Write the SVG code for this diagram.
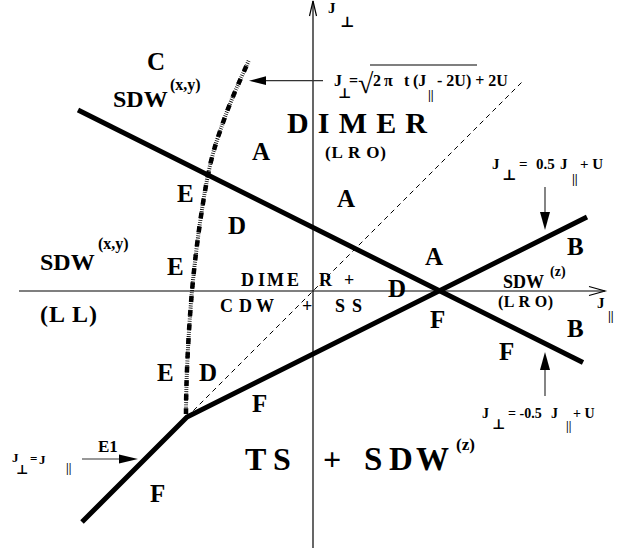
<svg xmlns="http://www.w3.org/2000/svg" width="630" height="548" viewBox="0 0 630 548">
<style>
text{font-family:"Liberation Serif","DejaVu Serif",serif;font-weight:bold;fill:#000}
.L{font-size:25px}
.f{font-size:15px}
.ax{stroke:#000;stroke-width:1.2;fill:none}
.thick{stroke:#000;stroke-width:5;fill:none;stroke-linejoin:miter}
.dash{stroke:#000;stroke-width:1;fill:none;stroke-dasharray:5 4}
.arr{stroke:#333;stroke-width:1.2;fill:none}
.head{fill:#000;stroke:none}
</style>
<rect width="630" height="548" fill="#fff"/>
<g id="connectors">
  <path class="ax" d="M19,291 L605,291"/>
  <path class="ax" d="M589,286.5 L605,291 L589,295.5"/>
  <path class="ax" d="M313,548 L313,1"/>
  <path class="ax" d="M309.5,16 L313,1 L316.5,16"/>
  <path class="dash" d="M187,417 L523,81"/>
  <path class="thick" d="M78,110 L583,362.5"/>
  <path class="thick" d="M82,522 L187,417 L587,217"/>
  <path d="M186,414 C186,380 188.5,330 192,291 C195.5,252 201.5,209 207,180 C212.5,151 218,137 225,117 C232,97 245,69.5 249,60" fill="none" stroke="#000" stroke-width="4" stroke-dasharray="0.8 1.4"/>
  <path d="M186,414 C186,380 188.5,330 192,291 C195.5,252 201.5,209 207,180 C212.5,151 218,137 225,117 C232,97 245,69.5 249,60" fill="none" stroke="#000" stroke-width="4.5" stroke-dasharray="6 8"/>
  <path class="arr" d="M323,80.7 L262,80.7"/>
  <path class="head" d="M249,80.7 L266,76.3 L266,85.1 Z"/>
  <path class="arr" d="M545,187 L545,214"/>
  <path class="head" d="M545,230 L540,212 L550,212 Z"/>
  <path class="arr" d="M545,396 L545,368"/>
  <path class="head" d="M545,352 L540,370 L550,370 Z"/>
  <path class="arr" d="M82,459 L121,459"/>
  <path class="head" d="M138,459 L119,454.5 L119,463.5 Z"/>
</g>
<g id="axis-labels">
  <text class="f" x="328" y="13">J</text>
  <text class="f" x="340" y="27">⊥</text>
  <text class="f" x="597" y="308">J</text>
  <text x="608" y="320" font-size="13">||</text>
</g>
<g id="formula-top">
  <text font-size="16" x="334" y="86">J</text>
  <text font-size="14" x="338" y="98">⊥</text>
  <text font-size="16" x="349" y="86">=</text>
  <text font-size="28" x="358" y="93">√</text>
  <path d="M370,65 L477,65" stroke="#000" stroke-width="1.2"/>
  <text font-size="16" y="86"><tspan x="373">2</tspan><tspan x="384">π</tspan><tspan x="404">t</tspan><tspan x="413">(J</tspan></text>
  <text x="428" y="99" font-size="13">||</text>
  <text font-size="16" x="437" y="86">- 2U) + 2U</text>
</g>
<g id="formula-upper-right">
  <text class="f" x="492" y="169">J</text>
  <text class="f" x="502" y="180">⊥</text>
  <text class="f" y="169"><tspan x="519">=</tspan><tspan x="536">0.5</tspan><tspan x="560">J</tspan></text>
  <text x="572" y="183" font-size="13">||</text>
  <text class="f" x="580" y="169">+ U</text>
</g>
<g id="formula-lower-right">
  <text font-size="14" x="482" y="418">J</text>
  <text font-size="14" x="492" y="429">⊥</text>
  <text font-size="14" y="418"><tspan x="508">= -0.5</tspan><tspan x="551">J</tspan></text>
  <text x="566" y="430" font-size="12">||</text>
  <text font-size="14" x="573" y="418">+ U</text>
</g>
<g id="formula-left">
  <text font-size="13" x="12" y="462">J</text>
  <text font-size="13" x="16" y="474">⊥</text>
  <text font-size="13" x="30" y="463">=</text>
  <text font-size="13" x="39" y="464">J</text>
  <text x="66" y="472" font-size="12">||</text>
  <text font-size="17" x="98" y="452">E1</text>
</g>
<g id="regions">
  <text class="L" x="147" y="70">C</text>
  <text font-size="24" x="113" y="107">SDW</text>
  <text font-size="16" x="170" y="90">(x,y)</text>
  <text font-size="30" x="287" y="133" textLength="140" lengthAdjust="spacing">D I M E R</text>
  <text font-size="17" x="325" y="158" textLength="61" lengthAdjust="spacing">(L R O)</text>
  <text font-size="24" x="40" y="270">SDW</text>
  <text font-size="16" x="98" y="249">(x,y)</text>
  <text font-size="24" x="40" y="322" textLength="57" lengthAdjust="spacing">(L L)</text>
  <text font-size="18" y="286"><tspan x="241 254 258 264 267 284 287 300">D I M E </tspan><tspan x="319">R </tspan><tspan x="344">+</tspan></text>
  <text font-size="18" y="312"><tspan x="220 232 239 253 256 280">C D W </tspan><tspan x="302">+ </tspan><tspan x="335 346 352">S S</tspan></text>
  <text font-size="18" x="503" y="288">SDW</text>
  <text font-size="14" x="550" y="276">(z)</text>
  <text font-size="16" x="498" y="307" textLength="55" lengthAdjust="spacing">(L R O)</text>
  <text font-size="32" y="470"><tspan x="245 268 273">T S</tspan></text>
  <text font-size="32" x="323" y="470">+</text>
  <text font-size="33" y="470"><tspan x="364 384 389 412 416">S D W</tspan></text>
  <text font-size="17" x="456" y="450">(z)</text>
  <text class="L" x="252" y="160">A</text>
  <text class="L" x="337" y="207">A</text>
  <text class="L" x="425" y="265">A</text>
  <text class="L" x="177" y="202">E</text>
  <text class="L" x="228" y="234">D</text>
  <text class="L" x="167" y="275">E</text>
  <text class="L" x="388" y="297">D</text>
  <text class="L" x="157" y="381">E</text>
  <text class="L" x="199" y="381">D</text>
  <text class="L" x="430" y="328">F</text>
  <text class="L" x="499" y="360">F</text>
  <text class="L" x="567" y="255">B</text>
  <text class="L" x="567" y="337">B</text>
  <text class="L" x="252" y="412">F</text>
  <text class="L" x="150" y="502">F</text>
</g>
</svg>
